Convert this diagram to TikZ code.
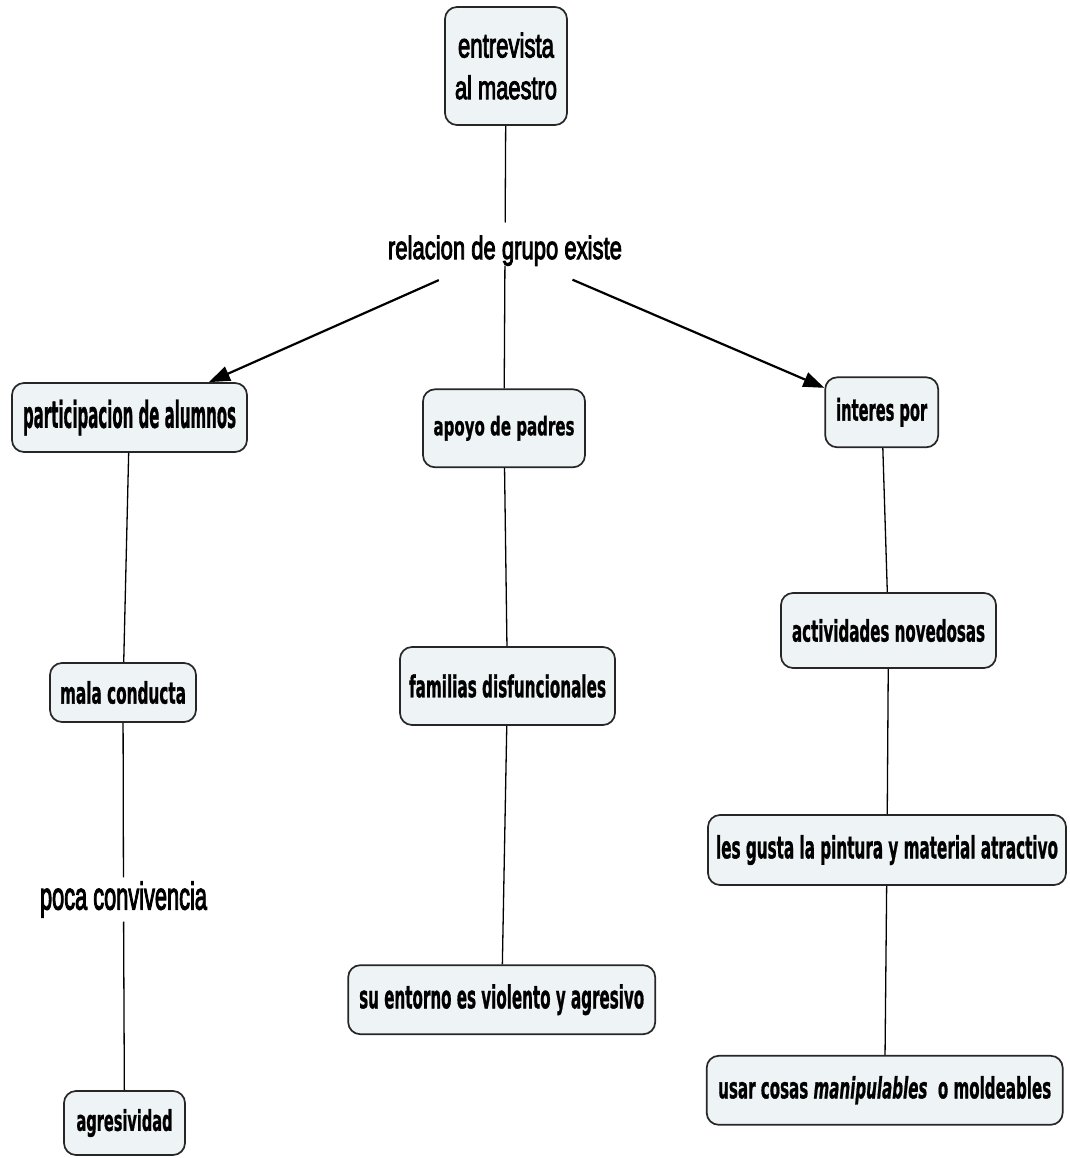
\documentclass[tikz,border=0pt]{standalone}
\usepackage{fontspec}
\usepackage{graphicx}
\usetikzlibrary{arrows.meta}
\newfontfamily\boxfont{DejaVu Sans}[FakeBold=1.2]
\newfontfamily\labfont{Liberation Sans}[FakeBold=3.5]
\definecolor{boxfill}{HTML}{EEF3F6}
\newcommand\fitt[3]{\resizebox*{#1pt}{#2pt}{#3}}
\tikzset{
  concept/.style={draw=black!85, line width=1.7pt, rounded corners=12pt, fill=boxfill,
    inner sep=0pt, font=\boxfont\bfseries, align=center},
  phrase/.style={inner sep=0pt, font=\labfont},
  conn/.style={line width=1.3pt, draw=black},
  arr/.style={line width=2.2pt, draw=black, -{Triangle[length=21pt,width=15pt]}, shorten <=35pt},
}
\begin{document}
\begin{tikzpicture}[x=1pt,y=1pt]
\useasboundingbox (0,0) rectangle (1069,-1158);
% concept boxes
\node[concept, minimum width=122pt, minimum height=118pt, font=\labfont\fontsize{30}{41.7}\selectfont]
  (top) at (506,-66) {\fitt{96}{25}{entrevista}\\\fitt{102}{24}{al maestro}};
\node[concept, minimum width=235pt, minimum height=69pt] (part) at (129.5,-417.5)
  {\fitt{213}{36}{participacion de alumnos}};
\node[concept, minimum width=162pt, minimum height=78pt] (apoyo) at (504,-428.3)
  {\fitt{141}{25}{apoyo de padres}};
\node[concept, minimum width=113pt, minimum height=70pt] (interes) at (881.7,-412.3)
  {\fitt{91}{29}{interes por}};
\node[concept, minimum width=146pt, minimum height=59pt] (mala) at (123,-692.5)
  {\fitt{126}{23}{mala conducta}};
\node[concept, minimum width=215pt, minimum height=78pt] (fam) at (507.5,-686)
  {\fitt{197}{23.4}{familias disfuncionales}};
\node[concept, minimum width=215pt, minimum height=75pt] (activ) at (888.5,-630.5)
  {\fitt{193}{23}{actividades novedosas}};
\node[concept, minimum width=358pt, minimum height=70pt] (gusta) at (887,-850)
  {\fitt{342}{30}{les gusta la pintura y material atractivo}};
\node[concept, minimum width=307pt, minimum height=69pt] (entorno) at (501.7,-999.7)
  {\fitt{285}{31}{su entorno es violento y agresivo}};
\node[concept, minimum width=356pt, minimum height=69pt] (usar) at (884.7,-1090.3)
  {\fitt{333}{28.3}{usar cosas \textit{manipulables}\ \ o moldeables}};
\node[concept, minimum width=121pt, minimum height=64pt] (agres) at (124.5,-1123)
  {\fitt{96}{28}{agresividad}};
% linking phrases
\node[phrase] (rel) at (505,-250.7) {\fitt{234}{30}{relacion de grupo existe}};
\node[phrase, inner sep=4pt] (poca) at (123.5,-899.5) {\fitt{167}{36}{poca convivencia}};
% connectors
\draw[conn, shorten >=13pt] (top) -- (rel);
\draw[conn] (rel) -- (apoyo);
\draw[arr] (rel) -- (part);
\draw[arr] (rel) -- (interes);
\draw[conn] (part) -- (mala);
\draw[conn] (mala) -- (poca);
\draw[conn] (poca) -- (agres);
\draw[conn] (apoyo) -- (fam);
\draw[conn] (fam) -- (entorno);
\draw[conn] (interes) -- (activ);
\draw[conn] (activ) -- (gusta);
\draw[conn] (gusta) -- (usar);
\end{tikzpicture}
\end{document}
